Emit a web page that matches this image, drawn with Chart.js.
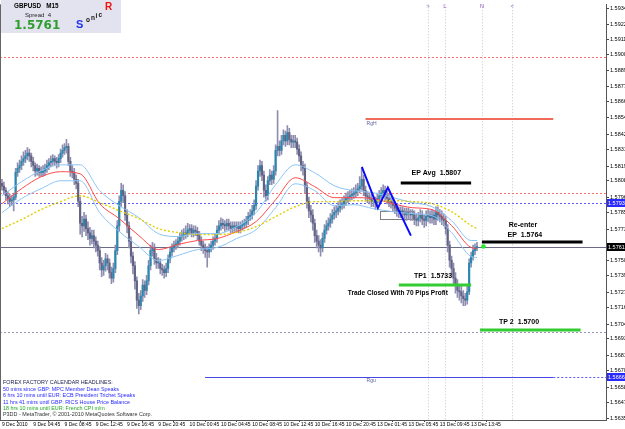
<!DOCTYPE html>
<html><head><meta charset="utf-8">
<script src="https://cdn.jsdelivr.net/npm/chart.js@4/dist/chart.umd.min.js"></script>
<style>html,body{margin:0;padding:0;background:#fff;overflow:hidden}canvas{display:block}</style>
</head><body>
<canvas id="c" width="625" height="429"></canvas>
<script>
// ---------------- DATA ----------------
const tickLabelsX = ["9 Dec 2010","9 Dec 04:45","9 Dec 08:45","9 Dec 12:45","9 Dec 16:45","9 Dec 20:45","10 Dec 00:45","10 Dec 04:45","10 Dec 08:45","10 Dec 12:45","10 Dec 16:45","10 Dec 20:45","13 Dec 01:45","13 Dec 05:45","13 Dec 09:45","13 Dec 13:45"];
const tickBarsX = [0,16,32,48,64,80,96,112,128,144,160,176,192,208,224,240];
const tickValuesY = [1.59345,1.59228,1.59115,1.59008,1.58895,1.58778,1.58665,1.58548,1.58425,1.58318,1.58195,1.58088,1.57965,1.57858,1.57735,1.57618,1.57505,1.57398,1.57275,1.57168,1.57045,1.56938,1.56815,1.56708,1.56585,1.56478,1.56355];

const opens = [
1.5807,1.5805,1.5802,1.5798,1.5796,1.5794,1.5795,1.5797,1.5815,1.5818,
1.5820,1.5823,1.5825,1.5827,1.5829,1.5827,1.5823,1.5820,1.5816,1.5818,
1.5815,1.5815,1.5816,1.5818,1.5820,1.5822,1.5823,1.5825,1.5823,1.5822,
1.5825,1.5829,1.5831,1.5833,1.5834,1.5823,1.5816,1.5815,1.5810,1.5807,
1.5794,1.5778,1.5776,1.5781,1.5774,1.5771,1.5767,1.5769,1.5765,1.5762,
1.5758,1.5749,1.5744,1.5747,1.5752,1.5749,1.5742,1.5738,1.5745,1.5758,
1.5776,1.5794,1.5802,1.5798,1.5784,1.5776,1.5765,1.5754,1.5747,1.5736,
1.5722,1.5718,1.5725,1.5733,1.5729,1.5736,1.5747,1.5758,1.5760,1.5752,
1.5749,1.5749,1.5745,1.5744,1.5742,1.5745,1.5752,1.5757,1.5760,1.5762,
1.5763,1.5765,1.5768,1.5769,1.5771,1.5770,1.5773,1.5774,1.5771,1.5773,
1.5772,1.5769,1.5765,1.5762,1.5760,1.5758,1.5757,1.5760,1.5762,1.5765,
1.5767,1.5773,1.5776,1.5778,1.5777,1.5776,1.5778,1.5776,1.5774,1.5776,
1.5775,1.5776,1.5774,1.5776,1.5777,1.5778,1.5780,1.5783,1.5784,1.5787,
1.5791,1.5805,1.5816,1.5820,1.5813,1.5802,1.5798,1.5809,1.5813,1.5810,
1.5816,1.5831,1.5834,1.5831,1.5838,1.5842,1.5838,1.5844,1.5839,1.5837,
1.5838,1.5837,1.5832,1.5827,1.5820,1.5818,1.5805,1.5794,1.5787,1.5784,
1.5778,1.5769,1.5765,1.5762,1.5760,1.5767,1.5773,1.5776,1.5778,1.5781,
1.5784,1.5786,1.5787,1.5789,1.5791,1.5792,1.5794,1.5796,1.5797,1.5798,
1.5799,1.5800,1.5802,1.5803,1.5805,1.5810,1.5802,1.5798,1.5797,1.5796,
1.5794,1.5794,1.5793,1.5796,1.5798,1.5800,1.5802,1.5798,1.5796,1.5794,
1.5793,1.5791,1.5789,1.5787,1.5786,1.5787,1.5786,1.5784,1.5786,1.5785,
1.5784,1.5784,1.5781,1.5780,1.5782,1.5784,1.5781,1.5780,1.5783,1.5784,
1.5782,1.5784,1.5781,1.5786,1.5784,1.5783,1.5781,1.5780,1.5774,1.5762,
1.5751,1.5745,1.5738,1.5733,1.5729,1.5728,1.5725,1.5723,1.5722,1.5728,
1.5749,1.5754,1.5758,1.5760];
const highs = [
1.5810,1.5808,1.5804,1.5801,1.5799,1.5798,1.5800,1.5818,1.5822,1.5824,
1.5827,1.5830,1.5831,1.5833,1.5832,1.5829,1.5826,1.5822,1.5821,1.5820,
1.5819,1.5820,1.5821,1.5824,1.5825,1.5827,1.5828,1.5827,1.5826,1.5828,
1.5832,1.5835,1.5836,1.5839,1.5836,1.5826,1.5820,1.5818,1.5813,1.5810,
1.5797,1.5783,1.5786,1.5784,1.5779,1.5775,1.5773,1.5773,1.5768,1.5765,
1.5761,1.5753,1.5751,1.5756,1.5755,1.5752,1.5746,1.5749,1.5762,1.5780,
1.5798,1.5807,1.5806,1.5801,1.5788,1.5779,1.5768,1.5757,1.5750,1.5739,
1.5727,1.5729,1.5737,1.5736,1.5740,1.5751,1.5762,1.5764,1.5763,1.5756,
1.5753,1.5752,1.5748,1.5747,1.5749,1.5755,1.5760,1.5763,1.5765,1.5766,
1.5768,1.5771,1.5773,1.5774,1.5776,1.5778,1.5777,1.5777,1.5776,1.5776,
1.5775,1.5772,1.5768,1.5765,1.5763,1.5761,1.5763,1.5765,1.5768,1.5770,
1.5776,1.5780,1.5782,1.5781,1.5780,1.5781,1.5781,1.5779,1.5779,1.5779,
1.5779,1.5779,1.5779,1.5780,1.5781,1.5783,1.5786,1.5788,1.5791,1.5795,
1.5809,1.5820,1.5824,1.5823,1.5816,1.5806,1.5812,1.5817,1.5816,1.5820,
1.5835,1.5860,1.5838,1.5842,1.5846,1.5845,1.5849,1.5847,1.5842,1.5842,
1.5842,1.5840,1.5835,1.5830,1.5823,1.5821,1.5808,1.5797,1.5791,1.5788,
1.5781,1.5773,1.5769,1.5766,1.5771,1.5777,1.5780,1.5782,1.5785,1.5788,
1.5790,1.5791,1.5793,1.5795,1.5796,1.5798,1.5800,1.5801,1.5802,1.5803,
1.5804,1.5806,1.5807,1.5812,1.5818,1.5813,1.5805,1.5801,1.5800,1.5799,
1.5798,1.5797,1.5800,1.5802,1.5804,1.5806,1.5805,1.5801,1.5799,1.5797,
1.5796,1.5794,1.5792,1.5790,1.5790,1.5790,1.5789,1.5789,1.5789,1.5788,
1.5788,1.5787,1.5785,1.5786,1.5788,1.5787,1.5784,1.5787,1.5788,1.5787,
1.5788,1.5787,1.5790,1.5790,1.5788,1.5787,1.5785,1.5783,1.5777,1.5765,
1.5754,1.5749,1.5742,1.5737,1.5733,1.5732,1.5729,1.5727,1.5733,1.5752,
1.5757,1.5762,1.5763,1.5764];
const lows = [
1.5802,1.5799,1.5795,1.5792,1.5790,1.5791,1.5787,1.5795,1.5812,1.5815,
1.5817,1.5820,1.5822,1.5824,1.5823,1.5819,1.5816,1.5812,1.5813,1.5812,
1.5812,1.5812,1.5813,1.5815,1.5817,1.5819,1.5820,1.5820,1.5818,1.5819,
1.5822,1.5826,1.5828,1.5829,1.5820,1.5812,1.5811,1.5806,1.5803,1.5790,
1.5770,1.5768,1.5772,1.5769,1.5766,1.5762,1.5763,1.5760,1.5757,1.5754,
1.5744,1.5739,1.5740,1.5743,1.5744,1.5738,1.5734,1.5735,1.5742,1.5755,
1.5772,1.5790,1.5793,1.5780,1.5771,1.5760,1.5749,1.5741,1.5730,1.5716,
1.5712,1.5715,1.5721,1.5724,1.5726,1.5733,1.5744,1.5754,1.5748,1.5745,
1.5745,1.5741,1.5740,1.5738,1.5739,1.5742,1.5749,1.5754,1.5757,1.5759,
1.5760,1.5762,1.5765,1.5766,1.5767,1.5768,1.5770,1.5768,1.5768,1.5769,
1.5766,1.5762,1.5758,1.5756,1.5753,1.5746,1.5753,1.5757,1.5759,1.5762,
1.5764,1.5770,1.5773,1.5774,1.5772,1.5773,1.5773,1.5771,1.5771,1.5772,
1.5772,1.5771,1.5771,1.5773,1.5774,1.5775,1.5777,1.5780,1.5781,1.5784,
1.5788,1.5802,1.5812,1.5809,1.5797,1.5794,1.5795,1.5806,1.5806,1.5807,
1.5813,1.5827,1.5827,1.5828,1.5835,1.5834,1.5835,1.5835,1.5833,1.5833,
1.5833,1.5828,1.5823,1.5816,1.5813,1.5800,1.5789,1.5782,1.5779,1.5773,
1.5764,1.5760,1.5757,1.5754,1.5757,1.5764,1.5770,1.5773,1.5775,1.5778,
1.5781,1.5782,1.5784,1.5786,1.5788,1.5789,1.5791,1.5793,1.5794,1.5795,
1.5796,1.5797,1.5798,1.5800,1.5802,1.5798,1.5794,1.5793,1.5792,1.5790,
1.5790,1.5788,1.5790,1.5793,1.5795,1.5797,1.5794,1.5792,1.5790,1.5789,
1.5787,1.5785,1.5783,1.5782,1.5782,1.5782,1.5780,1.5780,1.5781,1.5780,
1.5780,1.5777,1.5776,1.5776,1.5779,1.5777,1.5775,1.5776,1.5779,1.5778,
1.5778,1.5777,1.5777,1.5780,1.5779,1.5777,1.5776,1.5770,1.5757,1.5746,
1.5740,1.5733,1.5727,1.5724,1.5722,1.5720,1.5718,1.5718,1.5719,1.5726,
1.5746,1.5751,1.5755,1.5758];
const closes = [
1.5805,1.5802,1.5798,1.5796,1.5794,1.5795,1.5797,1.5815,1.5818,1.5820,
1.5823,1.5825,1.5827,1.5829,1.5827,1.5823,1.5820,1.5816,1.5818,1.5815,
1.5815,1.5816,1.5818,1.5820,1.5822,1.5823,1.5825,1.5823,1.5822,1.5825,
1.5829,1.5831,1.5833,1.5834,1.5823,1.5816,1.5815,1.5810,1.5807,1.5794,
1.5778,1.5776,1.5781,1.5774,1.5771,1.5767,1.5769,1.5765,1.5762,1.5758,
1.5749,1.5744,1.5747,1.5752,1.5749,1.5742,1.5738,1.5745,1.5758,1.5776,
1.5794,1.5802,1.5798,1.5784,1.5776,1.5765,1.5754,1.5747,1.5736,1.5722,
1.5718,1.5725,1.5733,1.5729,1.5736,1.5747,1.5758,1.5760,1.5752,1.5749,
1.5749,1.5745,1.5744,1.5742,1.5745,1.5752,1.5757,1.5760,1.5762,1.5763,
1.5765,1.5768,1.5769,1.5771,1.5770,1.5773,1.5774,1.5771,1.5773,1.5772,
1.5769,1.5765,1.5762,1.5760,1.5758,1.5757,1.5760,1.5762,1.5765,1.5767,
1.5773,1.5776,1.5778,1.5777,1.5776,1.5778,1.5776,1.5774,1.5776,1.5775,
1.5776,1.5774,1.5776,1.5777,1.5778,1.5780,1.5783,1.5784,1.5787,1.5791,
1.5805,1.5816,1.5820,1.5813,1.5802,1.5798,1.5809,1.5813,1.5810,1.5816,
1.5831,1.5834,1.5831,1.5838,1.5842,1.5838,1.5844,1.5839,1.5837,1.5838,
1.5837,1.5832,1.5827,1.5820,1.5818,1.5805,1.5794,1.5787,1.5784,1.5778,
1.5769,1.5765,1.5762,1.5760,1.5767,1.5773,1.5776,1.5778,1.5781,1.5784,
1.5786,1.5787,1.5789,1.5791,1.5792,1.5794,1.5796,1.5797,1.5798,1.5799,
1.5800,1.5802,1.5803,1.5805,1.5810,1.5802,1.5798,1.5797,1.5796,1.5794,
1.5794,1.5793,1.5796,1.5798,1.5800,1.5802,1.5798,1.5796,1.5794,1.5793,
1.5791,1.5789,1.5787,1.5786,1.5787,1.5786,1.5784,1.5786,1.5785,1.5784,
1.5784,1.5781,1.5780,1.5782,1.5784,1.5781,1.5780,1.5783,1.5784,1.5782,
1.5784,1.5781,1.5786,1.5784,1.5783,1.5781,1.5780,1.5774,1.5762,1.5751,
1.5745,1.5738,1.5733,1.5729,1.5728,1.5725,1.5723,1.5722,1.5728,1.5749,
1.5754,1.5758,1.5760,1.5761];

// moving averages (Sonic R dragon + trend), read at these bars
const maBars   = [0,10,20,30,40,50,60,70,80,90,100,110,120,130,140,150,160,170,180,190,200,210,220,230,240,243];
const maClose  = [1.57922,1.58031,1.58118,1.58155,1.58140,1.57922,1.57813,1.57690,1.57588,1.57625,1.57654,1.57668,1.57719,1.57792,1.57951,1.58111,1.58046,1.57966,1.57966,1.57959,1.57922,1.57893,1.57879,1.57763,1.57603,1.57596];
const maHigh   = [1.57980,1.58082,1.58162,1.58205,1.58205,1.58017,1.57908,1.57821,1.57704,1.57683,1.57704,1.57704,1.57755,1.57857,1.58060,1.58205,1.58147,1.58053,1.58017,1.58002,1.57966,1.57930,1.57900,1.57799,1.57654,1.57654];
const maLow    = [1.57857,1.57959,1.58031,1.58089,1.58089,1.57857,1.57719,1.57610,1.57508,1.57545,1.57588,1.57603,1.57668,1.57733,1.57893,1.58067,1.58017,1.57908,1.57915,1.57886,1.57864,1.57850,1.57835,1.57712,1.57537,1.57530];
const maTrend  = [1.57741,1.57806,1.57879,1.57937,1.57980,1.57930,1.57871,1.57813,1.57741,1.57712,1.57697,1.57697,1.57712,1.57755,1.57828,1.57900,1.57937,1.57937,1.57944,1.57944,1.57944,1.57937,1.57922,1.57864,1.57763,1.57741];

// hand-drawn zigzag
const zigBars   = [184.1,192.3,197.4,209.2];
const zigPrices = [1.5819,1.5789,1.5804,1.5769];

// price levels
const bidPrice      = 1.5761;
const dottedLevels  = [1.5899,1.5800,1.5793,1.5699];
const rgH = 1.5854, rgU = 1.5666;
const epAvg = 1.5807, reEntry = 1.5764, tp1 = 1.5733, tp2 = 1.5700;
const boxTop = 1.5787, boxBottom = 1.5781;
const vMarkBars   = [218,226.6,245.5,261];
const vMarkLabels = [">","L","N","<"];
const spread = 4;
const newsLines = ["FOREX FACTORY CALENDAR HEADLINES:","50 mins since GBP: MPC Member Dean Speaks","6 hrs 10 mins until EUR: ECB President Trichet Speaks","11 hrs 41 mins until GBP: RICS House Price Balance","18 hrs 10 mins until EUR: French CPI m/m"];

// ---------------- DRAWING ----------------
const F = '"Liberation Sans", Arial, sans-serif';
const BULL = '#2a88b0', BEAR = '#626284', WICK = '#8e8eb0';

function hline(ctx, x1, x2, py, color, width, dash) {
  ctx.save(); ctx.strokeStyle = color; ctx.lineWidth = width; ctx.setLineDash(dash || []);
  ctx.beginPath(); ctx.moveTo(x1, py); ctx.lineTo(x2, py); ctx.stroke(); ctx.restore();
}
function txt(ctx, s, x, y, font, color, align) {
  ctx.save(); ctx.font = font; ctx.fillStyle = color; ctx.textAlign = align || 'left'; ctx.textBaseline = 'middle';
  ctx.fillText(s, x, y); ctx.restore();
}

const overlay = {
  id: 'overlay',
  beforeDatasetsDraw(chart) {
    const {ctx, chartArea: a, scales: {x, y}} = chart;
    ctx.save();
    ctx.beginPath(); ctx.rect(a.left, a.top, a.right - a.left, a.bottom - a.top); ctx.clip();
    vMarkBars.forEach(b => {
      const px = Math.round(x.getPixelForValue(b)) + 0.5;
      ctx.save(); ctx.strokeStyle = '#c4c4dc'; ctx.lineWidth = 1; ctx.setLineDash([1, 2]);
      ctx.beginPath(); ctx.moveTo(px, a.top); ctx.lineTo(px, a.bottom); ctx.stroke(); ctx.restore();
    });
    const dotCols = ['#ff7070', '#ff7070', '#5a5aff', '#9a9ac0'];
    dottedLevels.forEach((v, k) => hline(ctx, a.left, a.right, Math.round(y.getPixelForValue(v)) + 0.5, dotCols[k], 1, [2, 2]));
    hline(ctx, x.getPixelForValue(104), a.right, Math.round(y.getPixelForValue(rgU)) + 0.5, '#5a5aff', 1, [2, 2]);
    hline(ctx, a.left, a.right, Math.round(y.getPixelForValue(bidPrice)) + 0.5, '#6a6a84', 1);
    const rx1 = x.getPixelForValue(193.4), rx2 = x.getPixelForValue(210.2);
    const ry1 = y.getPixelForValue(boxTop), ry2 = y.getPixelForValue(boxBottom);
    ctx.fillStyle = '#ffffff'; ctx.fillRect(rx1, ry1, rx2 - rx1, ry2 - ry1);
    ctx.strokeStyle = '#808080'; ctx.lineWidth = 1; ctx.strokeRect(Math.round(rx1) + 0.5, Math.round(ry1) + 0.5, Math.round(rx2 - rx1), Math.round(ry2 - ry1));
    ctx.restore();
  },
  afterDatasetsDraw(chart) {
    const {ctx, chartArea: a, scales: {x, y}} = chart;
    const X = v => x.getPixelForValue(v), Y = v => y.getPixelForValue(v);
    ctx.save();
    hline(ctx, X(186), X(282), Math.round(Y(rgH)), '#f06a5a', 2);
    hline(ctx, X(104), X(282), Math.round(Y(rgU)) + 0.5, '#4848e8', 1);
    txt(ctx, 'RgH', X(186.5), Y(rgH) + 4.5, '5px ' + F, '#6060a0');
    txt(ctx, 'Rgu', X(186.5), Y(rgU) + 4, '5px ' + F, '#6060a0');
    hline(ctx, X(204), X(240), Math.round(Y(epAvg)), '#000000', 3);
    hline(ctx, X(245.5), X(297), Math.round(Y(reEntry)), '#000000', 3);
    hline(ctx, X(203), X(240), Math.round(Y(tp1)), '#33cc33', 3);
    hline(ctx, X(244.5), X(296), Math.round(Y(tp2)), '#33cc33', 3);
    const bf = 'bold 7px ' + F;
    txt(ctx, 'EP Avg  ' + epAvg.toFixed(4), X(209.5), Y(epAvg) - 10.5, bf, '#000');
    txt(ctx, 'Re-enter', X(266.5), Y(reEntry) - 17, bf, '#000', 'center');
    txt(ctx, 'EP  ' + reEntry.toFixed(4), X(267.5), Y(reEntry) - 7, bf, '#000', 'center');
    txt(ctx, 'TP1  ' + tp1.toFixed(4), X(220.5), Y(tp1) - 8.5, bf, '#000', 'center');
    txt(ctx, 'Trade Closed With 70 Pips Profit', X(202.5), Y(tp1) + 8.5, 'bold 6.5px ' + F, '#000', 'center');
    txt(ctx, 'TP 2  ' + tp2.toFixed(4), X(264.5), Y(tp2) - 8, bf, '#000', 'center');
    ctx.fillStyle = '#22ee22'; ctx.beginPath(); ctx.arc(X(246.3), Y(bidPrice), 2.3, 0, Math.PI * 2); ctx.fill();
    vMarkBars.forEach((b, k) => txt(ctx, vMarkLabels[k], X(b), a.top + 2.5, '6px ' + F, '#9060c0', 'center'));
    ctx.restore();
  },
  afterDraw(chart) {
    const {ctx, chartArea: a, scales: {y}} = chart;
    ctx.save();
    ctx.strokeStyle = '#666'; ctx.lineWidth = 1;
    ctx.beginPath(); ctx.moveTo(0.5, a.top); ctx.lineTo(0.5, a.bottom); ctx.stroke();
    const box = (v, bg, label) => {
      const py = Math.round(y.getPixelForValue(v));
      ctx.fillStyle = bg; ctx.fillRect(a.right + 1, py - 4, 19, 8);
      txt(ctx, label, a.right + 2, py + 0.5, '5.5px ' + F, '#fff');
    };
    box(dottedLevels[2], '#2a2aff', '1.57930');
    box(rgU, '#2a2aff', '1.56660');
    box(bidPrice, '#000000', '1.57610');
    ctx.fillStyle = '#e3e3ef'; ctx.fillRect(1, 0, 120, 33);
    txt(ctx, 'GBPUSD   M15', 14, 6, 'bold 6.3px ' + F, '#000');
    txt(ctx, 'Spread  ' + spread, 25, 15, '6px ' + F, '#222');
    txt(ctx, bidPrice.toFixed(4), 14, 25.5, 'bold 12px "DejaVu Sans", sans-serif', '#2e9e2e');
    txt(ctx, 'S', 76, 25, 'bold 11px ' + F, '#2233ee');
    txt(ctx, 'o', 86, 20.5, 'bold 6.5px ' + F, '#111');
    txt(ctx, 'n', 91, 18.5, 'bold 6.5px ' + F, '#111');
    txt(ctx, 'i', 95.5, 16.5, 'bold 6.5px ' + F, '#111');
    txt(ctx, 'c', 98.5, 15, 'bold 6.5px ' + F, '#111');
    txt(ctx, 'R', 105, 7, 'bold 10px ' + F, '#ee1111');
    const nf = '5.4px ' + F;
    const newsCols = ['#202050', '#2a2aff', '#2a2aff', '#2a2aff', '#22aa22'];
    newsLines.forEach((s, k) => txt(ctx, s, 3, 383 + k * 6.4, nf, newsCols[k]));
    txt(ctx, 'P3DD - MetaTrader, \u00A9 2001-2010 MetaQuotes Software Corp.', 3, 415, nf, '#333');
    ctx.restore();
  }
};

const pts = (xs, ys) => xs.map((b, k) => ({x: b, y: ys[k]}));
const maLine = (vals, color, w, dash) => ({type: 'line', data: pts(maBars, vals), borderColor: color, borderWidth: w, borderDash: dash || [], pointRadius: 0, tension: 0.4, cubicInterpolationMode: 'monotone', order: 1});

new Chart(document.getElementById('c'), {
  type: 'bar',
  data: {
    datasets: [
      {type: 'bar', data: lows.map((l, i) => ({x: i, y: [l, highs[i]]})), backgroundColor: WICK, barThickness: 1, grouped: false, order: 4},
      {type: 'bar', data: opens.map((o, i) => ({x: i, y: [o, closes[i]]})), backgroundColor: c => (closes[c.dataIndex] >= opens[c.dataIndex] ? BULL : BEAR), barThickness: 1.5, minBarLength: 1, grouped: false, order: 3},
      maLine(maTrend, '#e0d000', 1.4, [2, 2]),
      maLine(maHigh, '#8cc4f4', 1),
      maLine(maLow, '#8cc4f4', 1),
      maLine(maClose, '#ff4a4a', 1),
      {type: 'line', data: pts(zigBars, zigPrices), borderColor: '#0a0aff', borderWidth: 2, pointRadius: 0, tension: 0, order: 0}
    ]
  },
  options: {
    responsive: false, animation: false, events: [],
    layout: {padding: {top: 3, left: 0, right: 0, bottom: 0}},
    plugins: {legend: {display: false}, tooltip: {enabled: false}},
    scales: {
      x: {
        type: 'linear', min: -1, max: 309, offset: false,
        afterBuildTicks: s => { s.ticks = tickBarsX.map(v => ({value: v})); },
        afterFit: s => { s.height = 9; },
        grid: {drawOnChartArea: false, drawTicks: true, tickLength: 2, color: '#444'},
        border: {display: true, color: '#555'},
        ticks: {autoSkip: false, maxRotation: 0, minRotation: 0, align: 'start', padding: 0, color: '#000', font: {size: 5, family: F},
          callback: v => { const k = tickBarsX.indexOf(v); return k >= 0 ? tickLabelsX[k] : ''; }}
      },
      y: {
        type: 'linear', position: 'right', min: 1.56347, max: 1.59374,
        afterBuildTicks: s => { s.ticks = tickValuesY.map(v => ({value: v})); },
        afterFit: s => { s.width = 19; },
        grid: {drawOnChartArea: false, drawTicks: true, tickLength: 3, color: '#444'},
        border: {display: true, color: '#555'},
        ticks: {padding: 1, color: '#000', font: {size: 5.5, family: F}, callback: v => Number(v).toFixed(5)}
      }
    }
  },
  plugins: [overlay]
});
</script>
</body></html>
